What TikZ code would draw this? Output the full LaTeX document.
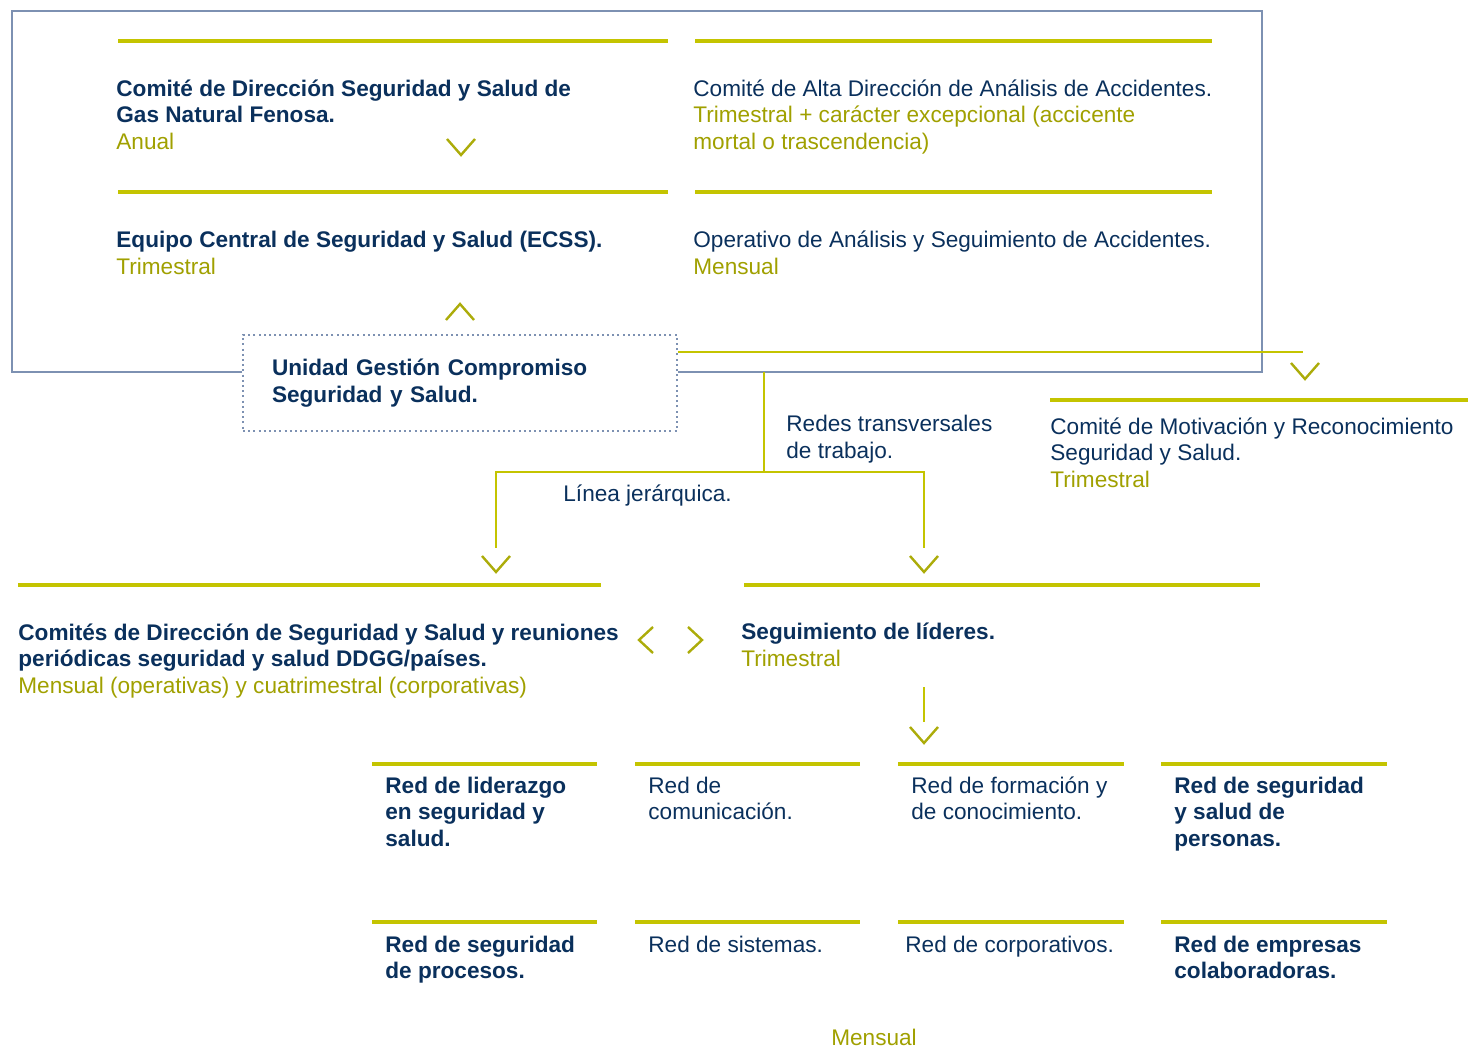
\documentclass[tikz,border=0pt]{standalone}
\usepackage{fontspec}
\setmainfont{Liberation Sans}
\usetikzlibrary{positioning,calc}
\definecolor{gnfNavy}{RGB}{10,48,92}
\definecolor{gnfLime}{RGB}{196,196,0}
\definecolor{gnfOlive}{RGB}{160,160,0}
\definecolor{gnfChev}{RGB}{172,172,10}
\definecolor{gnfSteel}{RGB}{125,145,178}
\newcommand\gfreq[1]{{\color{gnfOlive}#1}}
% multi-line nodes sit on the baseline of their last line
\tikzset{
  rule/.style={draw=gnfLime,line width=1.7pt},
  link/.style={draw=gnfLime,line width=1pt},
  frame/.style={draw=gnfSteel,line width=0.7pt},
  txt/.style={inner sep=0pt,anchor=base west,align=left,text=gnfNavy,
    font=\fontsize{11.3}{13.25}\selectfont},
  head/.style={txt,font=\fontsize{11.3}{13.25}\selectfont\bfseries},
  dotbox/.style={rectangle,draw=gnfSteel,line width=1pt,
    dash pattern=on 1pt off 1.6pt,text=gnfNavy,align=left,
    text width=188pt,inner xsep=14.5pt,minimum height=48pt,
    font=\fontsize{11.3}{13.25}\selectfont\bfseries},
  chev/.style={draw=gnfChev,line width=1.2pt},
  chevdown/.pic={\draw[chev] (-14,-8) -- (0,8) -- (14,-8);},
  chevup/.pic={\draw[chev] (-14,8) -- (0,-8) -- (14,8);},
  chevleft/.pic={\draw[chev] (7,-13) -- (-7,0) -- (7,13);},
  chevright/.pic={\draw[chev] (-7,-13) -- (7,0) -- (-7,13);}
}
\begin{document}
\begin{tikzpicture}[x=0.5pt,y=-0.5pt]
  \useasboundingbox (0,0) rectangle (1468,1053);

  % corporate committees
  \draw[rule] (118,41) -- (668,41);
  \draw[rule] (695,41) -- (1212,41);
  \draw[rule] (118,192) -- (668,192);
  \draw[rule] (695,192) -- (1212,192);
  \node[head] (cdss) at (116,149.5)
    {Comité de Dirección Seguridad y Salud de\\Gas Natural Fenosa.\\
     \mdseries\gfreq{Anual}};
  \node[txt] (cada) at (693,149.5)
    {Comité de Alta Dirección de Análisis de Accidentes.\\
     \gfreq{Trimestral + carácter excepcional (accicente}\\
     \gfreq{mortal o trascendencia)}};
  \node[head] (ecss) at (116,274.5)
    {Equipo Central de Seguridad y Salud (ECSS).\\\mdseries\gfreq{Trimestral}};
  \node[txt] (oasa) at (693,274.5)
    {Operativo de Análisis y Seguimiento de Accidentes.\\\gfreq{Mensual}};
  \pic at (461,147) {chevdown};
  \pic at (460,312) {chevup};

  \node[dotbox] (unidad) at (460,383)
    {Unidad Gestión Compromiso\\Seguridad y Salud.};
  \coordinate (boxsw) at (12,372);
  \coordinate (boxnw) at (12,11);
  \coordinate (boxne) at (1262,11);
  \coordinate (boxse) at (1262,372);
  \draw[frame] (unidad.west |- boxsw) -- (boxsw) -- (boxnw) -- (boxne)
    -- (boxse) -- (unidad.east |- boxse);

  % motivation committee
  \coordinate (motin) at (1303,352.5);
  \draw[link] (unidad.east |- motin) -- (motin);
  \pic at (1305,371) {chevdown};
  \draw[rule] (1050,400) -- (1468,400);
  \node[txt] (cmrs) at (1050,487.5)
    {Comité de Motivación y Reconocimiento\\Seguridad y Salud.\\
     \gfreq{Trimestral}};

  % hierarchy and networks
  \coordinate (split) at (764,372);
  \coordinate (hub) at (764,472);
  \coordinate (linein) at (496,548);
  \coordinate (segin) at (924,548);
  \draw[link] (split) -- (hub);
  \draw[link] (linein) |- (hub) -| (segin);
  \node[txt] (redes) at (786,458.5) {Redes transversales\\de trabajo.};
  \node[txt] (linea) at (563,502) {Línea jerárquica.};
  \pic at (496,564) {chevdown};
  \pic at (924,564) {chevdown};

  \draw[rule] (18,585) -- (601,585);
  \draw[rule] (744,585) -- (1260,585);
  \node[head] (cdpais) at (18,693)
    {Comités de Dirección de Seguridad y Salud y reuniones\\
     periódicas seguridad y salud DDGG/países.\\
     \mdseries\gfreq{Mensual (operativas) y cuatrimestral (corporativas)}};
  \node[head] (seglid) at (741,666.5)
    {Seguimiento de líderes.\\\mdseries\gfreq{Trimestral}};
  \pic at (646,640) {chevleft};
  \pic at (695,640) {chevright};

  \coordinate (segout) at (924,687);
  \coordinate (redin) at (924,722);
  \draw[link] (segout) -- (redin);
  \pic at (924,735) {chevdown};

  % networks
  \draw[rule] (372,764) -- (597,764);
  \draw[rule] (635,764) -- (860,764);
  \draw[rule] (898,764) -- (1124,764);
  \draw[rule] (1161,764) -- (1387,764);
  \draw[rule] (372,922) -- (597,922);
  \draw[rule] (635,922) -- (860,922);
  \draw[rule] (898,922) -- (1124,922);
  \draw[rule] (1161,922) -- (1387,922);
  \node[head] (rlider) at (385,846) {Red de liderazgo\\en seguridad y\\salud.};
  \node[txt] (rcomun) at (648,819.5) {Red de\\comunicación.};
  \node[txt] (rform) at (911,819.5) {Red de formación y\\de conocimiento.};
  \node[head] (rpers) at (1174,846) {Red de seguridad\\y salud de\\personas.};
  \node[head] (rproc) at (385,978.5) {Red de seguridad\\de procesos.};
  \node[txt] (rsist) at (648,952) {Red de sistemas.};
  \node[txt] (rcorp) at (905,952) {Red de corporativos.};
  \node[head] (rempr) at (1174,978.5) {Red de empresas\\colaboradoras.};
  \node[txt,anchor=base,text=gnfOlive] (mens) at (874,1045) {Mensual};
\end{tikzpicture}
\end{document}
